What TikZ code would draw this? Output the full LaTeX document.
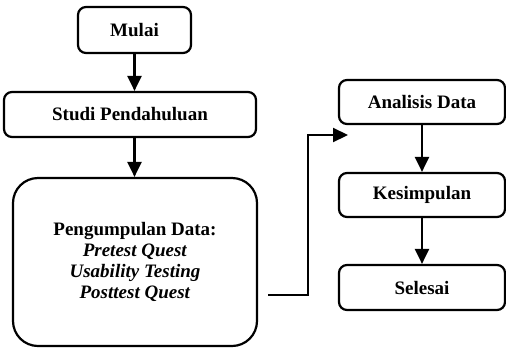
\documentclass[tikz,border=0pt]{standalone}
\usepackage{fontspec}
\setmainfont{Liberation Serif}
\usetikzlibrary{arrows.meta,positioning}

\tikzstyle{rect} = [rectangle, rounded corners=8pt, line width=2.2pt, draw=black, text centered, align=center, font=\bfseries\fontsize{19}{21}\selectfont]
\tikzstyle{bigrect} = [rect, rounded corners=25pt]
\tikzstyle{arrow} = [line width=2.2pt, -{Triangle[length=15pt,width=14pt]}]

\begin{document}
\begin{tikzpicture}[x=1pt, y=-1pt]
\useasboundingbox (0,0) rectangle (506,349);

\node (mulai) [rect, minimum width=113pt, minimum height=46pt] at (134.5,30) {Mulai};

\node (studi) [rect, minimum width=252pt, minimum height=45pt] at (130,114.5) {Studi Pendahuluan};

\node (data) [bigrect, minimum width=244pt, minimum height=168pt] at (135,262) {Pengumpulan Data:\\\textit{Pretest Quest}\\\textit{Usability Testing}\\\textit{Posttest Quest}};

\node (analisis) [rect, minimum width=166pt, minimum height=44pt] at (422,102) {Analisis Data};

\node (kesimpulan) [rect, minimum width=166pt, minimum height=44pt] at (422,195) {Kesimpulan};

\node (selesai) [rect, minimum width=166pt, minimum height=45pt] at (422,287.5) {Selesai};

\coordinate (dataout) at (268,295);
\coordinate (analisisin) at (348,135);

\draw[arrow] (mulai.south) -- (mulai.south |- studi.north);

\draw[arrow] (mulai.south |- studi.south) -- (mulai.south |- data.north);

\draw[arrow] (dataout) -- (308,295) -- (308,135) -- (analisisin);

\draw[arrow] (analisis.south) -- (kesimpulan.north);

\draw[arrow] (kesimpulan.south) -- (selesai.north);

\end{tikzpicture}
\end{document}
